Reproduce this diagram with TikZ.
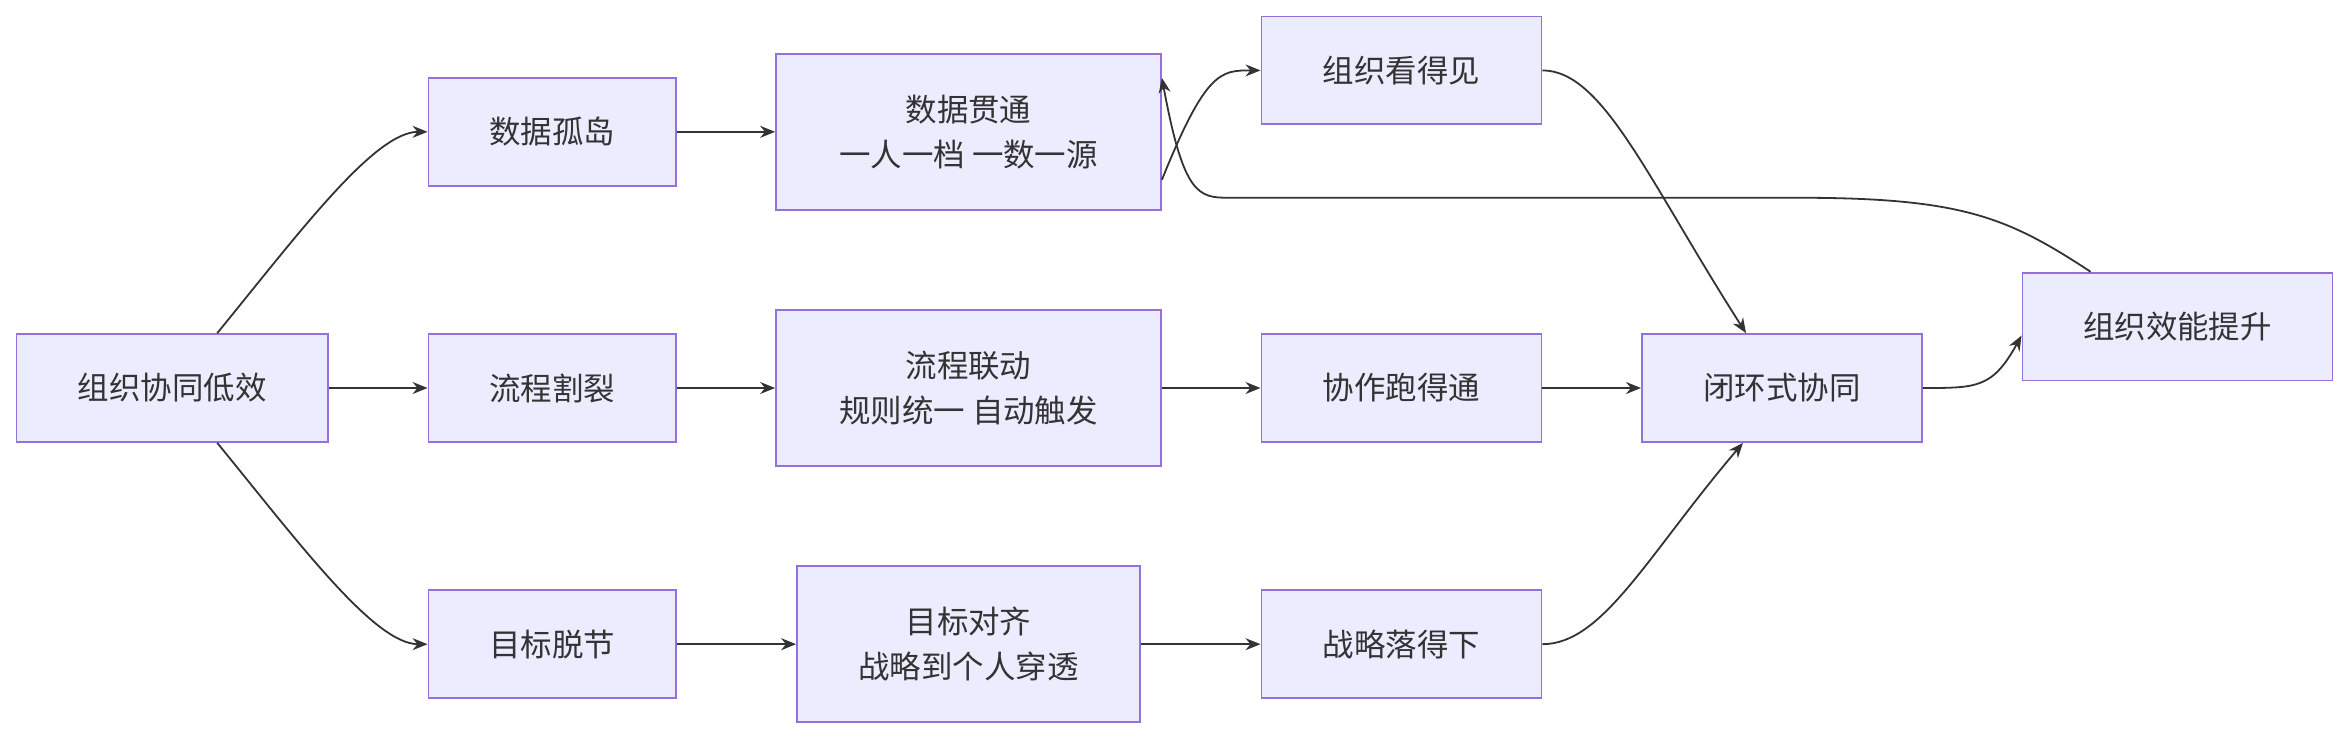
\documentclass[tikz,border=0pt]{standalone}
\usepackage{fontspec}
\setmainfont{Noto Sans CJK SC}
\usetikzlibrary{arrows.meta}
\definecolor{nf}{HTML}{ECECFF}
\definecolor{nd}{HTML}{9370DB}
\definecolor{ln}{HTML}{333333}
\begin{document}
\begin{tikzpicture}[x=0.5pt,y=-0.5pt,
 box/.style={draw=nd,fill=nf,line width=0.6pt,minimum height=36pt,align=center,font=\fontsize{10.5}{15}\selectfont,text=ln,inner sep=0pt},
 big/.style={box,minimum height=52pt},
 ar/.style={draw=ln,line width=0.6pt,-{Stealth[length=5pt,width=4pt]}}]
\useasboundingbox (0,0) rectangle (1568,492.6);
\node[box,minimum width=104pt] (A) at (115,259) {组织协同低效};
\node[box,minimum width=82.5pt] (B) at (368.5,88) {数据孤岛};
\node[box,minimum width=82.5pt] (C) at (368.5,259) {流程割裂};
\node[box,minimum width=82.5pt] (D) at (368.5,430) {目标脱节};
\node[big,minimum width=128.5pt] (E) at (646.5,88) {数据贯通\\一人一档 一数一源};
\node[big,minimum width=128.5pt] (F) at (646.5,259) {流程联动\\规则统一 自动触发};
\node[big,minimum width=114.5pt] (G) at (646.5,430) {目标对齐\\战略到个人穿透};
\node[box,minimum width=93.5pt] (H) at (935.5,47) {组织看得见};
\node[box,minimum width=93.5pt] (I) at (935.5,259) {协作跑得通};
\node[box,minimum width=93.5pt] (J) at (935.5,430) {战略落得下};
\node[box,minimum width=93.5pt] (K) at (1189.5,259) {闭环式协同};
\node[box,minimum width=103.5pt] (L) at (1453.5,218) {组织效能提升};
\draw[ar] ([xshift=15pt]A.north) .. controls (200,155) and (250,88) .. (B.west);
\draw[ar] ([xshift=15pt]A.south) .. controls (200,363) and (250,430) .. (D.west);
\draw[ar] (A) -- (C);
\draw[ar] (B) -- (E);
\draw[ar] (C) -- (F);
\draw[ar] (D) -- (G);
\draw[ar] ([yshift=-16pt]E.east) .. controls (805,47) and (815,47) .. (H.west);
\draw[ar] (F) -- (I);
\draw[ar] (G) -- (J);
\draw[ar] (I) -- (K);
\draw[ar] (H.east) .. controls (1070,47) and (1100,120) .. ([xshift=-12pt]K.north);
\draw[ar] (J.east) .. controls (1070,430) and (1100,370) .. ([xshift=-13pt]K.south);
\draw[ar] (K.east) .. controls (1320,259) and (1330,259) .. ([yshift=-3pt]L.west);
\draw[ar] ([xshift=-29pt]L.north) .. controls (1340,145) and (1310,132) .. (1200,132) -- (820,132) .. controls (800,132) and (790,130) .. ([yshift=18pt]E.east);
\end{tikzpicture}
\end{document}
